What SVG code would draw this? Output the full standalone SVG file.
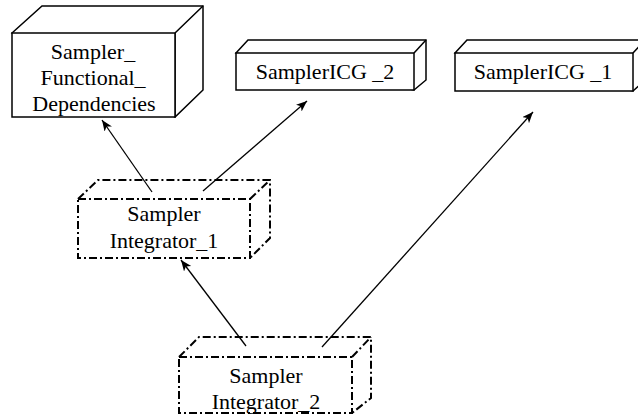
<svg xmlns="http://www.w3.org/2000/svg" width="638" height="419" viewBox="0 0 638 419">
  <defs>
    <marker id="arrow" markerWidth="12" markerHeight="10" refX="11" refY="4.5" orient="auto" markerUnits="userSpaceOnUse">
      <path d="M0,0 L11,4.5 L0,9 L3,4.5 z" fill="#000"/>
    </marker>
    <style>
      .box { fill: #fff; stroke: #000; stroke-width: 1.5; stroke-linejoin: miter; }
      .dd { fill: #fff; stroke: #000; stroke-width: 2; stroke-dasharray: 8 3 2 3; }
      .lbl { font-family: 'Liberation Serif', 'Times New Roman', Times, 'DejaVu Serif', serif; font-size: 22px; fill: #000; text-anchor: middle; }
      .edge { stroke: #000; stroke-width: 1.3; fill: none; marker-end: url(#arrow); }
    </style>
  </defs>
  <rect width="638" height="419" fill="#fff"/>

  <!-- Sampler_Functional_Dependencies -->
  <g id="sampler-functional-dependencies" font-family="Liberation Serif, serif">
    <path class="box" d="M12,33 L42,6 L203,6 L203,90 L175,117 Z"/>
    <path class="box" d="M175,33 L203,6 M175,33 L175,117"/>
    <rect class="box" x="12" y="33" width="163" height="84"/>
    <text class="lbl" x="93" y="59">Sampler_</text>
    <text class="lbl" x="93" y="85">Functional_</text>
    <text class="lbl" x="94" y="111">Dependencies</text>
  </g>

  <!-- SamplerICG _2 -->
  <g id="sampler-icg-2" font-family="Liberation Serif, serif">
    <path class="box" d="M236,53 L248,40 L426,40 L426,80 L414,90 Z"/>
    <path class="box" d="M414,53 L426,40"/>
    <rect class="box" x="236" y="53" width="178" height="37"/>
    <text class="lbl" x="325" y="79">SamplerICG _2</text>
  </g>

  <!-- SamplerICG _1 -->
  <g id="sampler-icg-1" font-family="Liberation Serif, serif">
    <path class="box" d="M455,53 L467,40 L645,40 L645,80 L633,91 Z"/>
    <path class="box" d="M633,53 L645,40"/>
    <rect class="box" x="455" y="53" width="178" height="38"/>
    <text class="lbl" x="543" y="79">SamplerICG _1</text>
  </g>

  <!-- Sampler Integrator_1 -->
  <g id="sampler-integrator-1" font-family="Liberation Serif, serif">
    <path class="dd" d="M78,199 L98,180 L270,180 L270,238 L250,258"/>
    <path class="dd" d="M250,199 L270,180"/>
    <rect class="dd" x="78" y="199" width="172" height="59"/>
    <text class="lbl" x="164" y="221">Sampler</text>
    <text class="lbl" x="164" y="248">Integrator_1</text>
  </g>

  <!-- Sampler Integrator_2 -->
  <g id="sampler-integrator-2" font-family="Liberation Serif, serif">
    <path class="dd" d="M179,357 L199,337 L371,337 L371,398 L352,413"/>
    <path class="dd" d="M352,357 L371,337"/>
    <rect class="dd" x="179" y="357" width="173" height="56"/>
    <text class="lbl" x="266" y="383">Sampler</text>
    <text class="lbl" x="266" y="409">Integrator_2</text>
  </g>

  <!-- connectors -->
  <g id="connectors">
    <line class="edge" x1="152" y1="192" x2="102" y2="120"/>
    <line class="edge" x1="203" y1="191" x2="307" y2="101"/>
    <line class="edge" x1="246" y1="346" x2="181" y2="260"/>
    <line class="edge" x1="322" y1="347" x2="533" y2="112"/>
  </g>
</svg>
